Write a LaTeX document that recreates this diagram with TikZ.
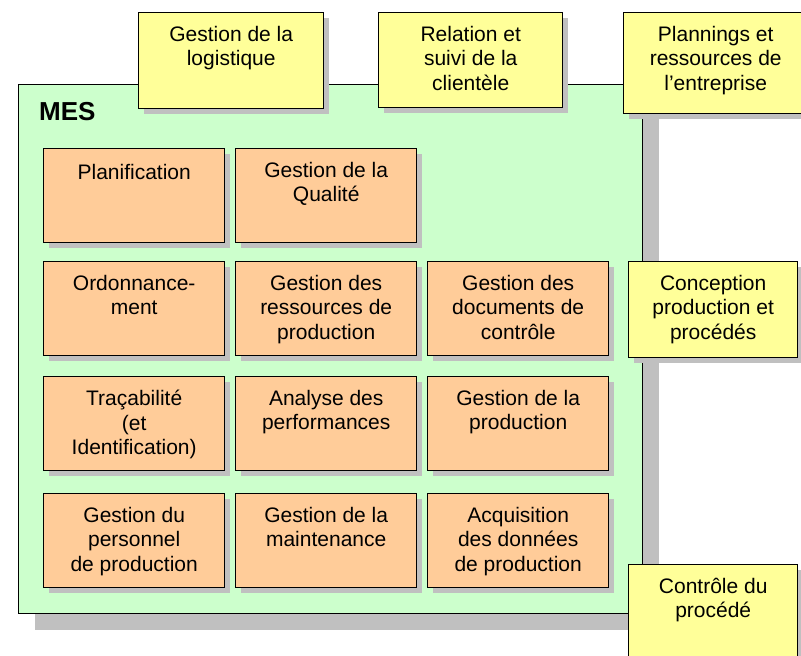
\documentclass[tikz,border=0pt]{standalone}
\usepackage{fontspec}
\setmainfont{Liberation Sans}
\usepackage{tikz}
\usetikzlibrary{shadows}
\definecolor{mesgreen}{HTML}{CCFFCC}
\definecolor{fnorange}{HTML}{FFCC99}
\definecolor{extyellow}{HTML}{FFFF99}
\definecolor{shadowgray}{HTML}{C0C0C0}

\begin{document}
\begin{tikzpicture}[x=1pt, y=-1pt,
        blk/.style={draw, line width=1.4pt, anchor=north west, inner sep=0pt,
            minimum width=181pt, minimum height=94pt,
            drop shadow={shadow xshift=5pt, shadow yshift=-5pt, fill=shadowgray, opacity=1}},
        fn/.style={blk, fill=fnorange},
        ext/.style={blk, fill=extyellow},
        lbl/.style={anchor=north, yshift=-14pt, align=center, inner sep=0pt,
            font=\fontsize{21}{24.5}\selectfont, execute at begin node=\strut}]
        \useasboundingbox (0,0) rectangle (801,656);
        \clip (0,0) rectangle (801,656);
        \node[draw, line width=1.1pt, fill=mesgreen, anchor=north west, inner sep=0pt,
            minimum width=624pt, minimum height=529pt,
            drop shadow={shadow xshift=16pt, shadow yshift=-16pt, fill=shadowgray, opacity=1}] (mes) at (18,84) {};
        \node[anchor=base west, inner sep=0pt, font=\fontsize{26}{30}\selectfont\bfseries] (mes-t) at (39,120) {MES};
        \node[fn] (plan) at (43,148) {};
        \node[lbl] (plan-t) at (plan.north) {Planification};
        \node[fn] (qual) at (235,148) {};
        \node[lbl] (qual-t) at (qual.north) {Gestion de la\\Qualité};
        \node[fn] (ordo) at (43,261) {};
        \node[lbl] (ordo-t) at (ordo.north) {Ordonnance-\\ment};
        \node[fn] (ress) at (235,261) {};
        \node[lbl] (ress-t) at (ress.north) {Gestion des\\ressources de\\production};
        \node[fn] (docs) at (427,261) {};
        \node[lbl] (docs-t) at (docs.north) {Gestion des\\documents de\\contrôle};
        \node[fn] (trac) at (43,376) {};
        \node[lbl] (trac-t) at (trac.north) {Traçabilité\\(et\\Identification)};
        \node[fn] (perf) at (235,376) {};
        \node[lbl] (perf-t) at (perf.north) {Analyse des\\performances};
        \node[fn] (prod) at (427,376) {};
        \node[lbl] (prod-t) at (prod.north) {Gestion de la\\production};
        \node[fn] (pers) at (43,493) {};
        \node[lbl] (pers-t) at (pers.north) {Gestion du\\personnel\\de production};
        \node[fn] (maint) at (235,493) {};
        \node[lbl] (maint-t) at (maint.north) {Gestion de la\\maintenance};
        \node[fn] (acq) at (427,493) {};
        \node[lbl] (acq-t) at (acq.north) {Acquisition\\des données\\de production};
        \node[ext, minimum width=185pt, minimum height=96pt] (logi) at (138,12) {};
        \node[lbl] (logi-t) at (logi.north) {Gestion de la\\logistique};
        \node[ext, minimum width=184pt, minimum height=95pt] (clie) at (378,12) {};
        \node[lbl] (clie-t) at (clie.north) {Relation et\\suivi de la\\clientèle};
        \node[ext, minimum width=184pt, minimum height=101pt] (plng) at (623,12) {};
        \node[lbl] (plng-t) at (plng.north) {Plannings et\\ressources de\\l’entreprise};
        \node[ext, minimum width=169pt, minimum height=96pt] (conc) at (628,261) {};
        \node[lbl] (conc-t) at (conc.north) {Conception\\production et\\procédés};
        \node[ext, minimum width=169pt, minimum height=100pt] (ctrl) at (628,564) {};
        \node[lbl] (ctrl-t) at (ctrl.north) {Contrôle du\\procédé};
    \end{tikzpicture}
\end{document}
